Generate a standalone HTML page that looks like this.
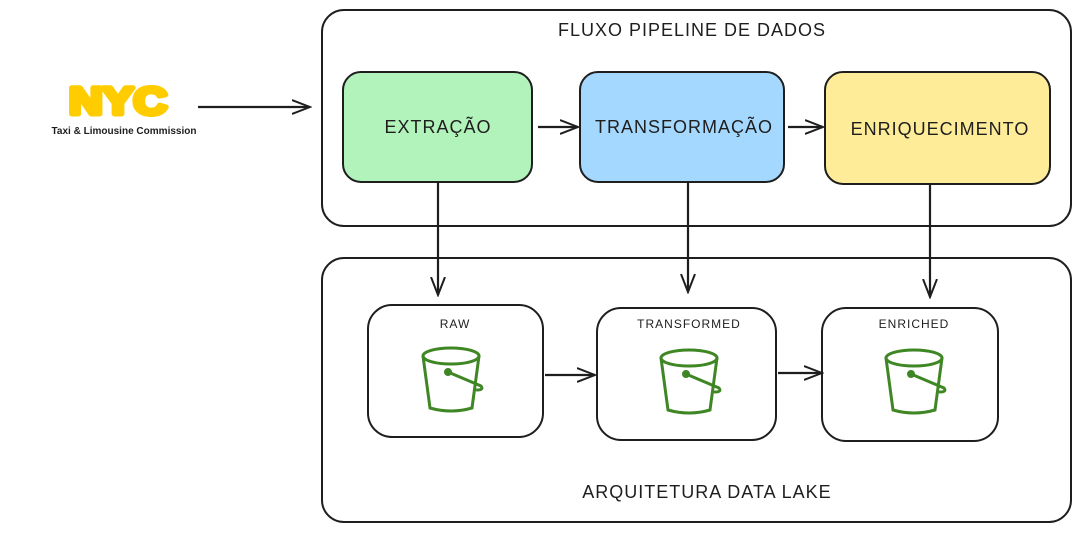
<!DOCTYPE html>
<html><head><meta charset="utf-8"><style>
body{margin:0;background:#fff;width:1081px;height:532px;overflow:hidden}
svg text{font-family:"Liberation Sans",sans-serif}
</style></head><body>
<svg width="1081" height="532" viewBox="0 0 1081 532" xmlns="http://www.w3.org/2000/svg">
<defs>
<g id="bk" fill="none" stroke="#3f8624" stroke-width="3" stroke-linecap="round">
<ellipse cx="0" cy="0" rx="28" ry="8"/>
<path d="M-28 0 L-21 52 Q0 58 21 52 L28 0"/>
<path d="M-3 16 L30 30 Q33 34 26 34"/>
<circle cx="-3" cy="16" r="2.5" fill="#3f8624"/>
</g>
<marker id="ah" markerWidth="20" markerHeight="16" refX="18" refY="8" orient="auto" markerUnits="userSpaceOnUse">
<path d="M0 1 L18 8 L0 15" fill="none" stroke="#1e1e1e" stroke-width="2"/>
</marker>
</defs>
<g fill="none" stroke="#1e1e1e" stroke-width="2">
<rect x="322" y="10" width="749" height="216" rx="22"/>
<rect x="322" y="258" width="749" height="264" rx="22"/>
<rect x="343" y="72" width="189" height="110" rx="18" fill="#b2f2bb"/>
<rect x="580" y="72" width="204" height="110" rx="18" fill="#a5d8ff"/>
<rect x="825" y="72" width="225" height="112" rx="18" fill="#ffec99"/>
<rect x="368" y="305" width="175" height="132" rx="24"/>
<rect x="597" y="308" width="179" height="132" rx="24"/>
<rect x="822" y="308" width="176" height="133" rx="24"/>
<g stroke-width="2.2" marker-end="url(#ah)">
<line x1="198" y1="107" x2="310" y2="107"/>
<line x1="538" y1="127" x2="578" y2="127"/>
<line x1="788" y1="127" x2="823" y2="127"/>
<line x1="438" y1="182" x2="438" y2="295"/>
<line x1="688" y1="182" x2="688" y2="292"/>
<line x1="930" y1="184" x2="930" y2="297"/>
<line x1="545" y1="375" x2="595" y2="375"/>
<line x1="778" y1="373" x2="822" y2="373"/>
</g>
</g>
<use href="#bk" x="451" y="356"/>
<use href="#bk" x="689" y="358"/>
<use href="#bk" x="914" y="358"/>
<g fill="#1e1e1e" text-anchor="middle" font-size="18" letter-spacing="1">
<text x="692" y="36">FLUXO PIPELINE DE DADOS</text>
<text x="707" y="498">ARQUITETURA DATA LAKE</text>
<text x="438" y="133">EXTRAÇÃO</text>
<text x="684" y="133">TRANSFORMAÇÃO</text>
<text x="940" y="135">ENRIQUECIMENTO</text>
<g font-size="12"><text x="455" y="328">RAW</text><text x="689" y="328">TRANSFORMED</text><text x="914" y="328">ENRICHED</text></g>
</g>
<text x="118" y="114" text-anchor="middle" font-size="38" font-weight="bold" fill="#ffcc00" stroke="#ffcc00" stroke-width="5" stroke-linejoin="round" textLength="98" lengthAdjust="spacingAndGlyphs">NYC</text>
<text x="124" y="134" text-anchor="middle" font-size="10" font-weight="bold" fill="#1e1e1e" textLength="145" lengthAdjust="spacingAndGlyphs">Taxi &amp; Limousine Commission</text>
</svg>
</body></html>
